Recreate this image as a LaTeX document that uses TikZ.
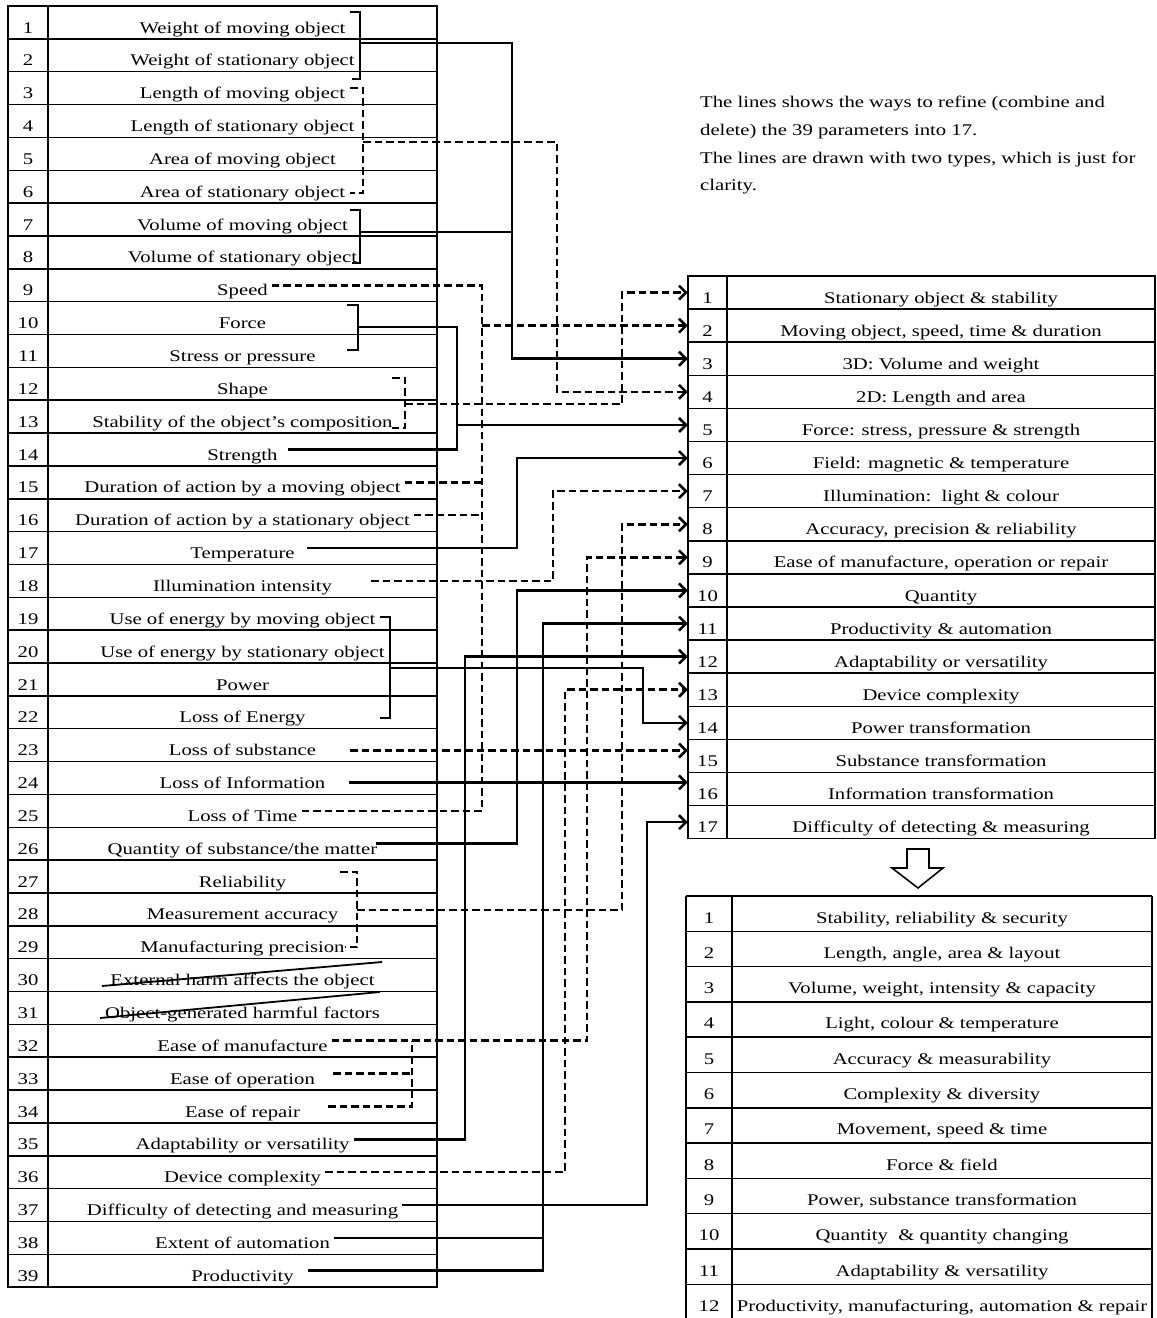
\documentclass[tikz,border=0pt]{standalone}
\usepackage{fontspec}
\setmainfont{Liberation Serif}[FakeStretch=1.27]
\usetikzlibrary{arrows.meta,calc}
\begin{document}
\begin{tikzpicture}[x=1pt,y=-1pt,font=\fontsize{16.3}{19}\selectfont,
  grid/.style={line width=1.5pt},
  sol/.style={line width=2.6pt},
  das/.style={line width=2.6pt,dash pattern=on 7.5pt off 4pt},
  arr/.style={-{Straight Barb[length=7pt,width=14pt]}},
  txt/.style={inner xsep=4pt,inner ysep=0pt,text height=21.2pt,text depth=0pt},
  txtb/.style={inner xsep=4pt,inner ysep=0pt,text height=18.7pt,text depth=0pt},
  numl/.style={txt,inner xsep=0pt,minimum width=40pt},
  numr/.style={txt,inner xsep=0pt,minimum width=39pt},
  numb/.style={txtb,inner xsep=0pt,minimum width=46pt}]
\fill[white] (0,0) rectangle (1157,1318);
\useasboundingbox (0,0) rectangle (1157,1318);

% ---------- left table ----------
\draw[grid] (8,6) rectangle (437,1287.15);
\draw[grid] (48,6) -- (48,1287.15);
\foreach \k in {1,...,38} \draw[grid] (8,{6+\k*32.85}) -- (437,{6+\k*32.85});
\foreach \i/\t [evaluate=\i as \yc using 6+(\i-0.5)*32.85] in {
 1/Weight of moving object, 2/Weight of stationary object, 3/Length of moving object,
 4/Length of stationary object, 5/Area of moving object, 6/Area of stationary object,
 7/Volume of moving object, 8/Volume of stationary object, 9/Speed, 10/Force,
 11/Stress or pressure, 12/Shape, 13/Stability of the object's composition, 14/Strength,
 15/Duration of action by a moving object, 16/Duration of action by a stationary object,
 17/Temperature, 18/Illumination intensity, 19/Use of energy by moving object,
 20/Use of energy by stationary object, 21/Power, 22/Loss of Energy, 23/Loss of substance,
 24/Loss of Information, 25/Loss of Time, 26/{Quantity of substance/the matter},
 27/Reliability, 28/Measurement accuracy, 29/Manufacturing precision,
 30/External harm affects the object, 31/Object-generated harmful factors,
 32/Ease of manufacture, 33/Ease of operation, 34/Ease of repair,
 35/Adaptability or versatility, 36/Device complexity,
 37/Difficulty of detecting and measuring, 38/Extent of automation, 39/Productivity}
{
  \node[numl] (n\i) at (28,\yc) {\i};
  \node[txt] (t\i) at (242.5,\yc) {\t};
}

% ---------- right table (17) ----------
\draw[grid] (688,276) rectangle (1155,838.7);
\draw[grid] (727,276) -- (727,838.7);
\foreach \k in {1,...,16} \draw[grid] (688,{276+\k*33.1}) -- (1155,{276+\k*33.1});
\foreach \i/\t [evaluate=\i as \yc using 276+(\i-0.5)*33.1] in {
 1/Stationary object \& stability, 2/{Moving object, speed, time \& duration},
 3/3D: Volume and weight, 4/2D: Length and area, 5/{Force: stress, pressure \& strength},
 6/Field: magnetic \& temperature, 7/Illumination:\ \ light \& colour,
 8/{Accuracy, precision \& reliability}, 9/{Ease of manufacture, operation or repair},
 10/Quantity, 11/Productivity \& automation, 12/Adaptability or versatility,
 13/Device complexity, 14/Power transformation, 15/Substance transformation,
 16/Information transformation, 17/Difficulty of detecting \& measuring}
{
  \node[numr] (m\i) at (707.5,\yc) {\i};
  \node[txt] (u\i) at (941,\yc) {\t};
}

% ---------- bottom table (12) ----------
\draw[grid] (686,896) -- (1152,896);
\draw[grid] (686,896) -- (686,1330) (732,896) -- (732,1330) (1152,896) -- (1152,1330);
\foreach \k in {1,...,11} \draw[grid] (686,{896+\k*35.3}) -- (1152,{896+\k*35.3});
\foreach \i/\t [evaluate=\i as \yc using 896+(\i-0.5)*35.3] in {
 1/{Stability, reliability \& security}, 2/{Length, angle, area \& layout},
 3/{Volume, weight, intensity \& capacity}, 4/{Light, colour \& temperature},
 5/Accuracy \& measurability, 6/Complexity \& diversity, 7/{Movement, speed \& time},
 8/Force \& field, 9/{Power, substance transformation}, 10/Quantity\ \ \& quantity changing,
 11/Adaptability \& versatility, 12/{Productivity, manufacturing, automation \& repair}}
{
  \node[numb] (b\i) at (709,\yc) {\i};
  \node[txtb] (c\i) at (942,\yc) {\t};
}

% hollow arrow between tables
\draw[line width=1.6pt,fill=white] (907,849) -- (929,849) -- (929,868) -- (943,868)
  -- (918,888) -- (892,868) -- (907,868) -- cycle;

% notes
\node[anchor=base west,inner sep=0pt] (note1) at (700,107) {The lines shows the ways to refine (combine and};
\node[anchor=base west,inner sep=0pt] (note2) at (700,135) {delete) the 39 parameters into 17.};
\node[anchor=base west,inner sep=0pt] (note3) at (700,163) {The lines are drawn with two types, which is just for};
\node[anchor=base west,inner sep=0pt] (note4) at (700,190) {clarity.};

% strike-through of deleted parameters
\draw[line width=1.8pt] (102,986) -- (382,962);
\draw[line width=1.8pt] (100,1018) -- (380,992);

% vertical routing positions
\coordinate (vA) at (512,0);
\coordinate (vC) at (557,0);
\coordinate (vS) at (482,0);
\coordinate (vD) at (457,0);
\coordinate (vE) at (622,0);
\coordinate (vT) at (517,0);
\coordinate (vI) at (553,0);
\coordinate (vG) at (643,0);
\coordinate (vP) at (543,0);
\coordinate (vQ) at (465,0);
\coordinate (vR) at (565,0);
\coordinate (vW) at (647,0);
\coordinate (vM) at (587,0);
\coordinate (vN) at (412,0);

% brackets
\draw[sol] (350,12) -- (360,12) -- (360,79) -- (352,79);
\coordinate (jA) at (360,43);
\draw[sol] (350,210) -- (360,210) -- (360,263) -- (352,263);
\coordinate (jB) at (360,232);
\draw[das] (350,88) -- (363,88) -- (363,193) -- (350,193);
\coordinate (jC) at (363,142);
\draw[sol] (347,305) -- (358,305) -- (358,350) -- (347,350);
\coordinate (jD) at (358,327);
\draw[das] (392,378) -- (405,378) -- (405,428) -- (392,428);
\coordinate (jE) at (405,404);
\draw[sol] (380,617) -- (390,617) -- (390,718) -- (380,718);
\coordinate (jG) at (390,668);
\draw[das] (340,872) -- (357,872) -- (357,947) -- (345,947);
\coordinate (jF) at (357,910);

\coordinate (h23) at ($(t23.east)!.5!(t23.east|-m15.west)+(30,0)$);
\coordinate (h24) at ($(t24.east)!.4!(t24.east|-m16.west)+(20,0)$);

% connectors
\draw[sol,arr] (jA) -| (vA |- m3.west) -- (m3.west);
\draw[sol] (jB) -- (vA |- jB);
\draw[das,arr] (jC) -| (vC |- m4.west) -- (m4.west);
\draw[das] (t9.east) -| (vS |- t25.east) -- (t25.east);
\draw[das] (t15.east) -- (vS |- t15.east);
\draw[das] (t16.east) -- (vS |- t16.east);
\draw[das,arr] (vS |- m2.west) -- (m2.west);
\draw[sol] (jD) -| (vD |- t14.east) -- ([xshift=6pt]t14.east);
\draw[sol,arr] (vD |- m5.west) -- (m5.west);
\draw[das,arr] (jE) -| (vE |- m1.west) -- (m1.west);
\draw[sol,arr] ([xshift=8pt]t17.east) -| (vT |- m6.west) -- (m6.west);
\draw[das,arr] ([xshift=35pt]t18.east) -| (vI |- m7.west) -- (m7.west);
\draw[das,arr] (jF) -| (vE |- m8.west) -- (m8.west);
\draw[das,arr] (t32.east) -| (vM |- m9.west) -- (m9.west);
\draw[das] ([xshift=14pt]t33.east) -- (vN |- t33.east);
\draw[das] ([xshift=24pt]t34.east) -| (vN |- t32.east);
\draw[sol,arr] ([xshift=-6pt]t26.east) -| (vT |- m10.west) -- (m10.west);
\draw[sol,arr] ([xshift=10pt]t39.east) -| (vP |- m11.west) -- (m11.west);
\draw[sol] (t38.east) -- (vP |- t38.east);
\draw[sol,arr] (t35.east) -| (vQ |- m12.west) -- (m12.west);
\draw[das,arr] (t36.east) -| (vR |- m13.west) -- (m13.west);
\draw[sol,arr] (jG) -| (vG |- m14.west) -- (m14.west);
\draw[das,arr] (h23) -- (h23 -| m15.west);
\draw[sol,arr] (h24) -- (h24 -| m16.west);
\draw[sol,arr] (t37.east) -| (vW |- m17.west) -- (m17.west);
\end{tikzpicture}
\end{document}
